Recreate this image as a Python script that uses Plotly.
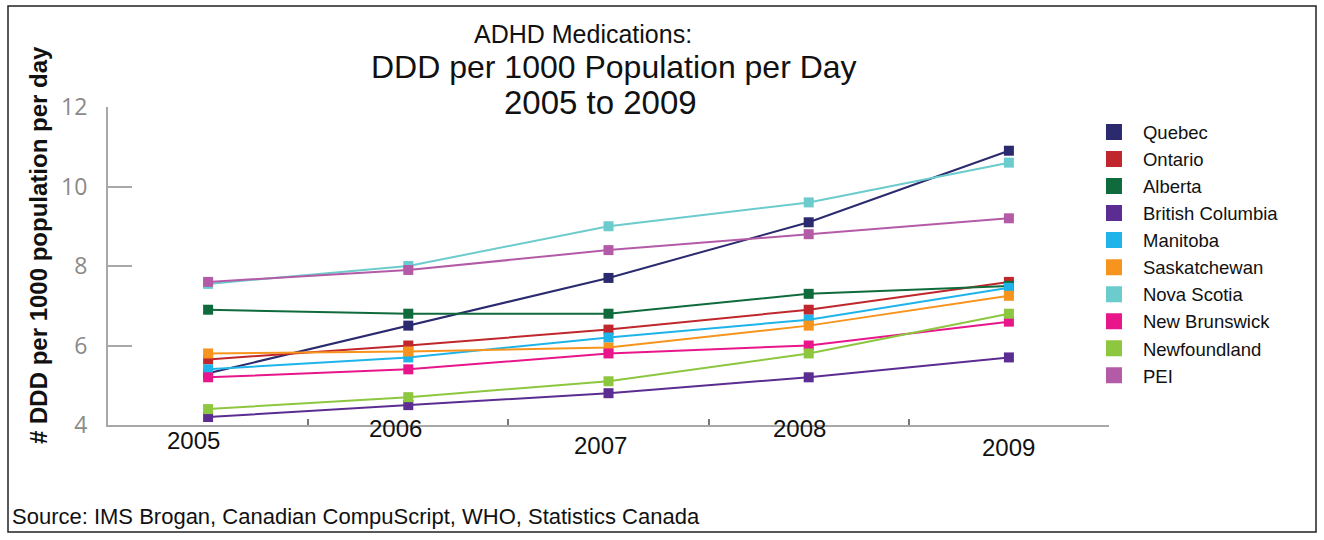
import plotly.graph_objects as go

# Years on the x axis
years = ["2005", "2006", "2007", "2008", "2009"]

# DDD per 1000 population per day, by province
quebec = [5.3, 6.5, 7.7, 9.1, 10.9]
ontario = [5.65, 6.0, 6.4, 6.9, 7.6]
alberta = [6.9, 6.8, 6.8, 7.3, 7.5]
british_columbia = [4.2, 4.5, 4.8, 5.2, 5.7]
manitoba = [5.4, 5.7, 6.2, 6.65, 7.45]
saskatchewan = [5.8, 5.85, 5.95, 6.5, 7.25]
nova_scotia = [7.55, 8.0, 9.0, 9.6, 10.6]
new_brunswick = [5.2, 5.4, 5.8, 6.0, 6.6]
newfoundland = [4.4, 4.7, 5.1, 5.8, 6.8]
pei = [7.6, 7.9, 8.4, 8.8, 9.2]

provinces = ["Quebec", "Ontario", "Alberta", "British Columbia", "Manitoba",
             "Saskatchewan", "Nova Scotia", "New Brunswick", "Newfoundland", "PEI"]
series = [quebec, ontario, alberta, british_columbia, manitoba,
          saskatchewan, nova_scotia, new_brunswick, newfoundland, pei]
colors = ["#2b2a6e", "#c0272d", "#0f6b3c", "#5b2c91", "#1eb4ea",
          "#f7941d", "#6ccbcc", "#e8168a", "#8dc63f", "#b45ba7"]

FONT = "Liberation Sans, Arial, Helvetica, sans-serif"

fig = go.Figure()

# Data lines (kept out of the legend)
for name, vals, col in zip(provinces, series, colors):
    fig.add_trace(go.Scatter(
        x=years, y=vals, mode="lines+markers", name=name,
        line=dict(color=col, width=2),
        marker=dict(symbol="square", size=10, color=col),
        showlegend=False,
    ))

# Legend entries: square swatches only
for name, col in zip(provinces, colors):
    fig.add_trace(go.Scatter(
        x=[None], y=[None], mode="markers", name=name,
        marker=dict(symbol="square", size=16, color=col),
        showlegend=True,
    ))

axis_grey = "#a8a8a8"

fig.update_xaxes(
    type="category", range=[-0.5, 4.5],
    showline=True, linecolor=axis_grey, linewidth=2,
    ticks="inside", tickson="boundaries", ticklen=6, tickwidth=1.5, tickcolor="#777",
    showticklabels=False, showgrid=False, zeroline=False,
)
fig.update_yaxes(
    range=[4, 12], dtick=2,
    showline=True, linecolor=axis_grey, linewidth=2,
    ticks="inside", ticklen=24, tickwidth=1.5, tickcolor=axis_grey,
    tickfont=dict(family="Open Sans, DejaVu Sans, sans-serif", size=23, color="#8a8a8a"),
    ticklabelstandoff=14,
    showgrid=False, zeroline=False,
)

annotations = []

# Title, one line per annotation
title_lines = ["ADHD Medications:", "DDD per 1000 Population per Day", "2005 to 2009"]
title_x = [0.4745, 0.5055, 0.4925]
title_y = [1.2296, 1.1260, 1.0126]
title_size = [25, 32, 33]
for txt, tx, ty, ts in zip(title_lines, title_x, title_y, title_size):
    annotations.append(dict(
        text=txt, xref="paper", yref="paper", x=tx, y=ty,
        xanchor="center", yanchor="middle", showarrow=False,
        font=dict(family=FONT, size=ts, color="#111"),
    ))

# Year labels under the axis, placed by category position
label_dx = [-15, -13, -8, -9, 0]
label_dy = [-15, -3, -20, -3, -22]
for i, (yr, dx, dy) in enumerate(zip(years, label_dx, label_dy)):
    annotations.append(dict(
        text=yr, xref="x", yref="paper", x=i, y=0, xshift=dx, yshift=dy,
        xanchor="center", yanchor="middle", showarrow=False,
        font=dict(family=FONT, size=24, color="#111"),
    ))

# Axis title
annotations.append(dict(
    text="<b># DDD per 1000 population per day</b>", xref="paper", yref="paper",
    x=-0.0699, y=0.566, textangle=-90, xanchor="center", yanchor="middle",
    showarrow=False, font=dict(family=FONT, size=24, color="#111"),
))

# Source line
annotations.append(dict(
    text="Source: IMS Brogan, Canadian CompuScript, WHO, Statistics Canada",
    xref="paper", yref="paper", x=-0.0979, y=-0.2862,
    xanchor="left", yanchor="middle", showarrow=False,
    font=dict(family=FONT, size=22, color="#111"),
))

fig.update_layout(
    width=1324, height=540,
    margin=dict(l=108, r=215, t=107, b=115),
    paper_bgcolor="white", plot_bgcolor="white",
    font=dict(family=FONT),
    annotations=annotations,
    legend=dict(
        x=0.976, y=0.98, xanchor="left", yanchor="top",
        font=dict(family=FONT, size=18.5, color="#111"),
        itemwidth=48, bgcolor="rgba(0,0,0,0)", maxheight=420,
    ),
    shapes=[dict(
        type="rect", xref="paper", yref="paper",
        x0=-0.0999, x1=1.2068, y0=-0.3365, y1=1.3176,
        line=dict(color="#222", width=1.5), fillcolor="rgba(0,0,0,0)",
        layer="below",
    )],
)

fig.write_html("out.html")
